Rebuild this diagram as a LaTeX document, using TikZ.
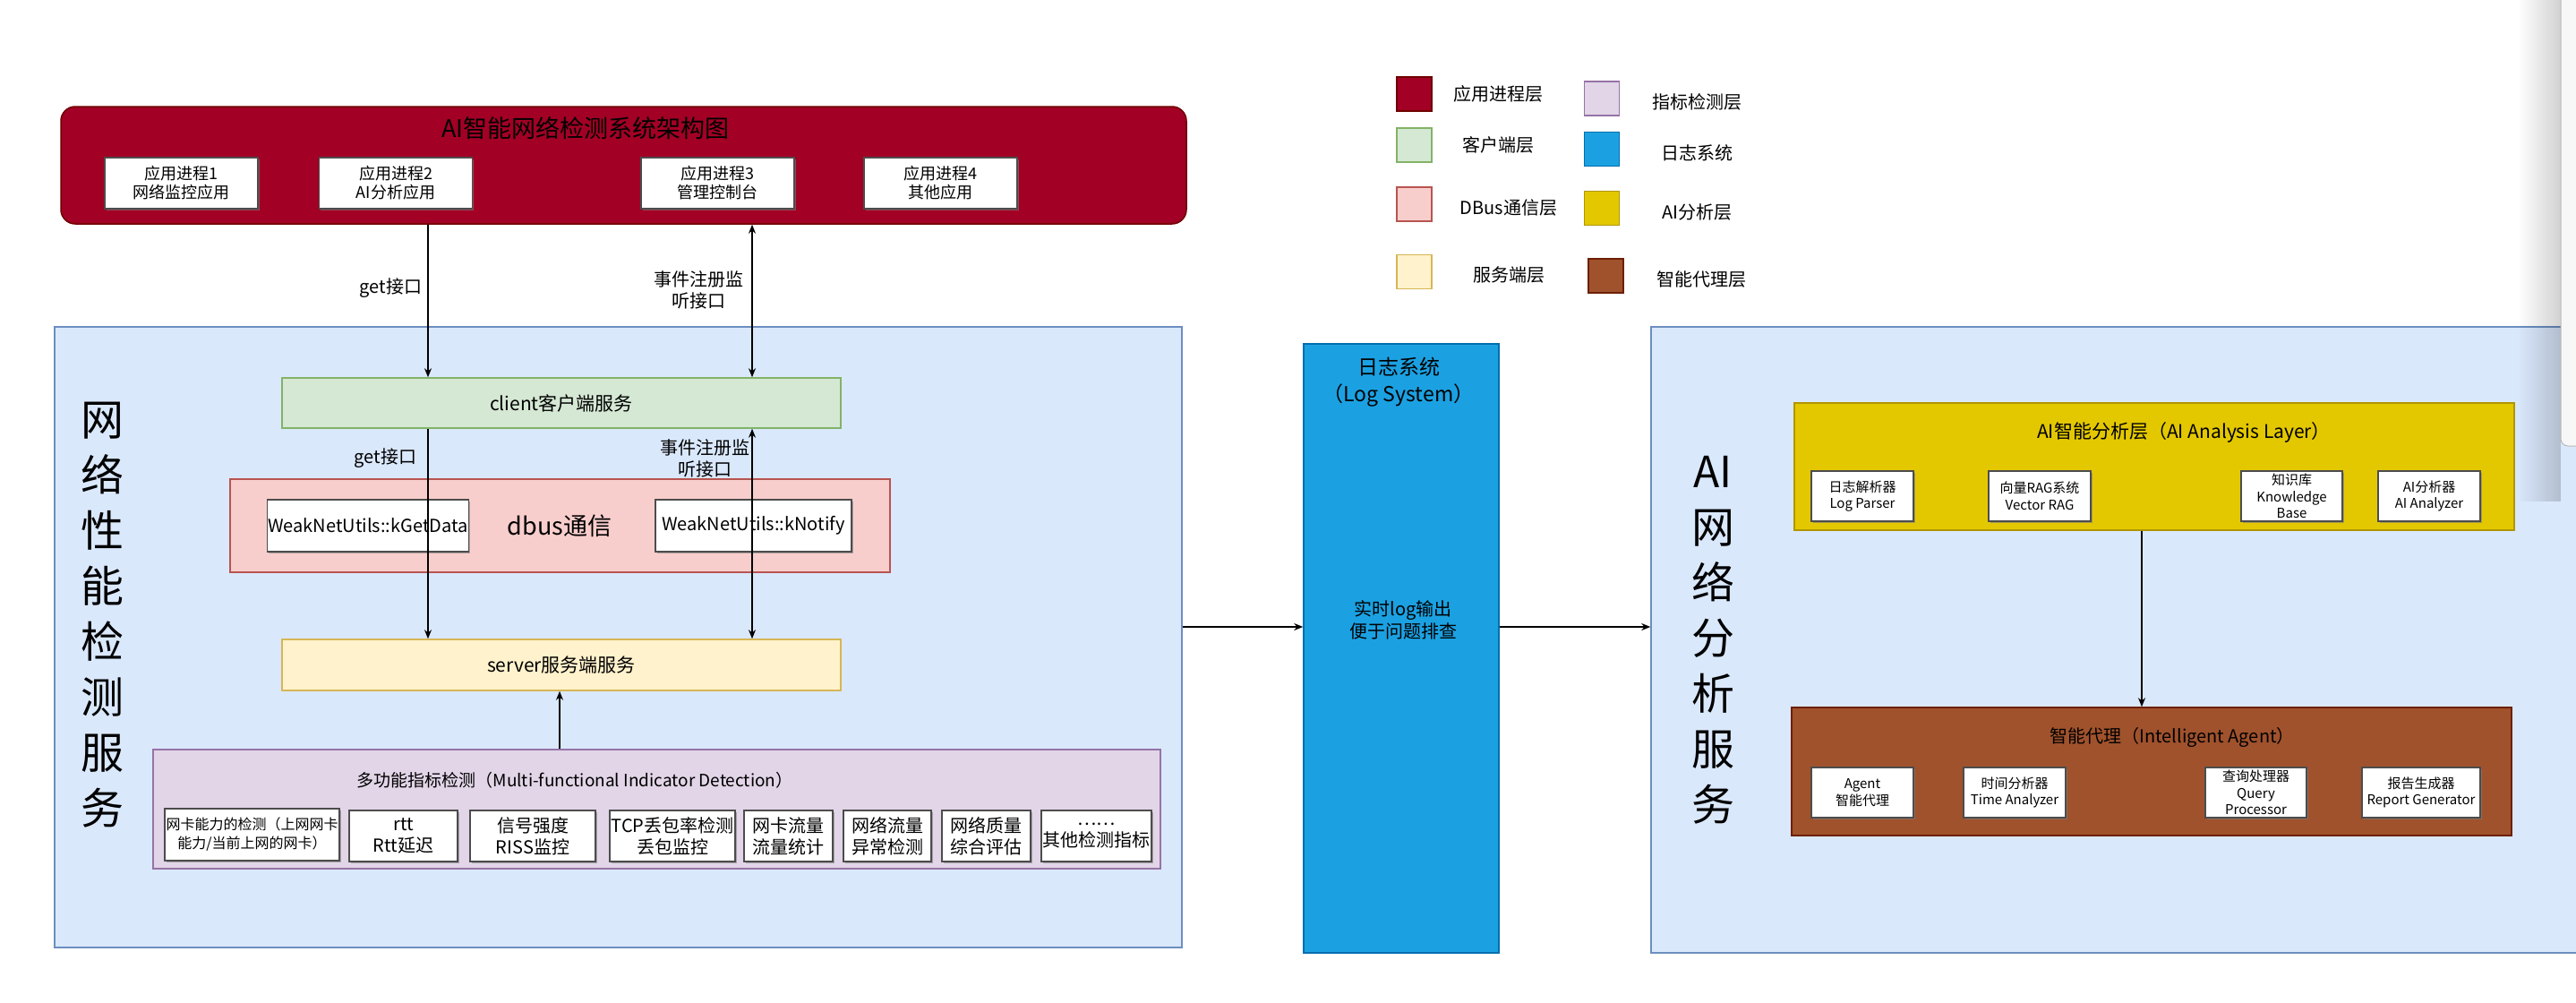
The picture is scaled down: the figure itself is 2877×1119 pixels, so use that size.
\documentclass[tikz,border=0pt]{standalone}
\usepackage{fontspec}
\setmainfont{Noto Sans CJK SC}
\usetikzlibrary{arrows.meta,shadows,fadings}
\definecolor{fillApp}{HTML}{A20025}\definecolor{lineApp}{HTML}{6F0000}
\definecolor{fillCli}{HTML}{D5E8D4}\definecolor{lineCli}{HTML}{82B366}
\definecolor{fillBus}{HTML}{F8CECC}\definecolor{lineBus}{HTML}{B85450}
\definecolor{fillSrv}{HTML}{FFF2CC}\definecolor{lineSrv}{HTML}{D6B656}
\definecolor{fillInd}{HTML}{E1D5E7}\definecolor{lineInd}{HTML}{9673A6}
\definecolor{fillLog}{HTML}{1BA1E2}\definecolor{lineLog}{HTML}{006EAF}
\definecolor{fillAI}{HTML}{E3C800}\definecolor{lineAI}{HTML}{B09500}
\definecolor{fillAgt}{HTML}{A0522D}\definecolor{lineAgt}{HTML}{6D1F00}
\definecolor{fillBg}{HTML}{DAE8FC}\definecolor{lineBg}{HTML}{6C8EBF}
\tikzfading[name=fadein,left color=transparent!100,right color=transparent!0]
\tikzset{
  every picture/.style={line width=1.5pt},
  layer/.style={draw=line#1,fill=fill#1,inner sep=0},
  wbox/.style={draw=black!70,fill=white,align=center,inner sep=1pt,
    drop shadow={shadow xshift=1.5pt,shadow yshift=-2pt,opacity=.6}},
  legsq/.style={minimum width=39pt,minimum height=38pt,inner sep=0},
  lbl/.style={inner sep=1pt,align=center,font=\fontsize{20}{24}\selectfont},
  vtxt/.style={inner sep=0,align=center,font=\fontsize{48}{62}\selectfont},
  flow/.style={-{Stealth[length=10pt,width=8pt]},line width=1.5pt},
  flowtwo/.style={{Stealth[length=10pt,width=8pt]}-{Stealth[length=10pt,width=8pt]},line width=1.5pt},
}
\begin{document}
\begin{tikzpicture}[x=1pt,y=-1pt]
\useasboundingbox (0,0) rectangle (2877,1119);
% --- legend ---
\foreach \c/\sx/\sy/\t/\tx/\ty in {App/1579.5/105/应用进程层/1673/105, Cli/1579.5/162/客户端层/1673/162,
    Bus/1579.5/228/DBus通信层/1685/232, Srv/1579.5/303.5/服务端层/1685/307,
    Ind/1789/110/指标检测层/1895/114, Log/1789/166.5/日志系统/1895/171,
    AI/1789/232.5/AI分析层/1895/237, Agt/1793.5/308/智能代理层/1900/312}{
  \node[legsq,layer=\c] (sq\c) at (\sx,\sy) {};
  \node[lbl] (lt\c) at (\tx,\ty) {\t};
}
% --- application processes ---
\node[layer=App,rounded corners=16pt,minimum width=1257pt,minimum height=131pt] (apps) at (696.5,184.5) {};
\node[inner sep=0,font=\fontsize{27}{30}\selectfont] (title) at (654,143) {AI智能网络检测系统架构图};
\foreach \i/\x/\t in {1/202.5/{应用进程1\\网络监控应用}, 2/442/{应用进程2\\AI分析应用},
    3/801.5/{应用进程3\\管理控制台}, 4/1050.5/{应用进程4\\其他应用}}{
  \node[wbox,minimum width=171pt,minimum height=57pt,font=\fontsize{18}{21}\selectfont] (app\i) at (\x,204.5) {\t};
}
% --- network performance service ---
\node[layer=Bg,minimum width=1259pt,minimum height=693pt] (netsvc) at (690.5,711.5) {};
\node[vtxt] (netlbl) at (114,687) {网\\络\\性\\能\\检\\测\\服\\务};
\node[layer=Cli,minimum width=624pt,minimum height=56pt,font=\fontsize{21}{24}\selectfont] (client) at (627,450) {client客户端服务};
\node[layer=Bus,minimum width=737pt,minimum height=104pt] (dbus) at (625.5,587) {};
\node[wbox,minimum width=220pt,minimum height=58pt,font=\fontsize{20}{24}\selectfont] (getdata) at (411,587) {WeakNetUtils::kGetData};
\node[wbox,minimum width=219pt,minimum height=58pt,font=\fontsize{20}{24}\selectfont] (notify) at (841.5,587) {WeakNetUtils::kNotify};
\node[inner sep=0,font=\fontsize{27}{30}\selectfont] (dbuslbl) at (625,587) {dbus通信};
\node[layer=Srv,minimum width=624pt,minimum height=57pt,font=\fontsize{21}{24}\selectfont] (server) at (627,742.5) {server服务端服务};
% --- indicator detection ---
\node[layer=Ind,minimum width=1125pt,minimum height=133pt] (multi) at (733.5,903.5) {};
\node[inner sep=0,font=\fontsize{19}{22}\selectfont] (multilbl) at (642,871) {多功能指标检测（Multi-functional Indicator Detection）};
\node[wbox,minimum width=195pt,minimum height=58pt,font=\fontsize{16}{21}\selectfont] (ind1) at (281.5,932) {网卡能力的检测（上网网卡\\能力/当前上网的网卡）};
\foreach \i/\x/\w/\t in {2/450.5/121/{rtt\\Rtt延迟}, 3/595/140/{信号强度\\RISS监控}, 4/751/140/{TCP丢包率检测\\丢包监控},
    5/880.5/99/{网卡流量\\流量统计}, 6/991/98/{网络流量\\异常检测}, 7/1101.5/99/{网络质量\\综合评估},
    8/1224.5/123/{……\\其他检测指标}}{
  \node[wbox,minimum width=\w pt,minimum height=57pt,font=\fontsize{20}{24}\selectfont] (ind\i) at (\x,933.5) {\t};
}
% --- log system ---
\node[layer=Log,minimum width=218pt,minimum height=680pt] (logsys) at (1565,724) {};
\node[lbl,font=\fontsize{23}{30}\selectfont] (loglbl) at (1562,427) {日志系统\\（Log System）};
\node[lbl,font=\fontsize{20}{25}\selectfont] (logtxt) at (1567,692) {实时log输出\\便于问题排查};
% --- AI network analysis service ---
\node[layer=Bg,minimum width=1056pt,minimum height=699pt] (aisvc) at (2372,714.5) {};
\node[vtxt] (ailbl) at (1913,715) {AI\\网\\络\\分\\析\\服\\务};
\node[layer=AI,minimum width=804pt,minimum height=142pt] (ailayer) at (2406,521) {};
\node[inner sep=0,font=\fontsize{21}{24}\selectfont] (ailaylbl) at (2439,483) {AI智能分析层（AI Analysis Layer）};
\foreach \i/\x/\w/\t in {1/2080/114/{日志解析器\\Log Parser}, 2/2278/114/{向量RAG系统\\Vector RAG},
    3/2559.5/113/{知识库\\Knowledge\\Base}, 4/2713/114/{AI分析器\\AI Analyzer}}{
  \node[wbox,minimum width=\w pt,minimum height=56pt,font=\fontsize{15}{18.5}\selectfont] (ai\i) at (\x,554) {\t};
}
\node[layer=Agt,minimum width=804pt,minimum height=143pt] (agent) at (2403,861.5) {};
\node[inner sep=0,font=\fontsize{20}{24}\selectfont] (agentlbl) at (2426,823) {智能代理（Intelligent Agent）};
\foreach \i/\x/\w/\t in {1/2080/114/{Agent\\智能代理}, 2/2250/114/{时间分析器\\Time Analyzer},
    3/2519.5/113/{查询处理器\\Query\\Processor}, 4/2704/132/{报告生成器\\Report Generator}}{
  \node[wbox,minimum width=\w pt,minimum height=56pt,font=\fontsize{15}{18.5}\selectfont] (ag\i) at (\x,885) {\t};
}
% --- connectors ---
\coordinate (getx) at (478,0);
\coordinate (evx) at (840,0);
\coordinate (upx) at (625,0);
\coordinate (downx) at (2392,0);
\coordinate (liney) at (0,700);
\draw[flow] (apps.south -| getx) -- (client.north -| getx);
\draw[flowtwo] (apps.south -| evx) -- (client.north -| evx);
\draw[flow] (client.south -| getx) -- (server.north -| getx);
\draw[flowtwo] (client.south -| evx) -- (server.north -| evx);
\draw[flow] (multi.north -| upx) -- (server.south -| upx);
\draw[flow] (netsvc.east |- liney) -- (logsys.west |- liney);
\draw[flow] (logsys.east |- liney) -- (aisvc.west |- liney);
\draw[flow] (ailayer.south -| downx) -- (agent.north -| downx);
\node[lbl,anchor=east] (getA) at (473,322) {get接口};
\node[lbl] (evA) at (780,324) {事件注册监\\听接口};
\node[lbl,anchor=east] (getB) at (467,512) {get接口};
\node[lbl] (evB) at (787,512) {事件注册监\\听接口};
% scrollbar at the right edge
\fill[black,opacity=.18,path fading=fadein] (2812,0) rectangle (2860,560);
\draw[draw=gray!55,fill=gray!6,line width=1pt,rounded corners=8pt] (2860,-20) rectangle (2900,498);
\end{tikzpicture}
\end{document}
